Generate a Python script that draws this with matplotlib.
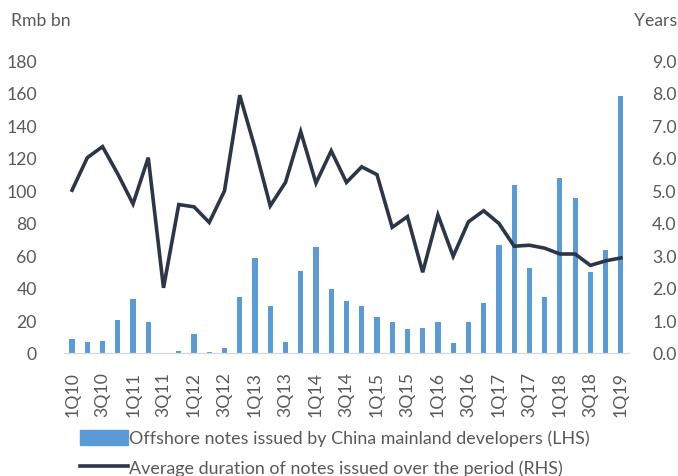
import matplotlib.pyplot as plt
from matplotlib.lines import Line2D
from matplotlib.patches import Patch

plt.rcParams["font.family"] = ["Lato", "DejaVu Sans"]

QUARTERS = [f"{q}Q{y:02d}" for y in range(10, 20) for q in range(1, 5)][:37]

# Offshore notes issued, Rmb bn (LHS)
ISSUANCE = [8.6, 6.5, 7.4, 20.5, 33.2, 19.0, 0.0, 1.0, 11.9, 0.4,
            3.1, 34.4, 58.6, 28.7, 6.5, 50.2, 64.9, 39.3, 32.1, 29.1,
            22.1, 19.0, 14.7, 15.1, 19.0, 6.1, 19.0, 30.5, 66.1, 103.4,
            52.4, 34.6, 107.3, 95.4, 49.6, 63.3, 157.7]

# Average duration of notes, years (RHS)
DURATION = [5.0, 6.0, 6.34, 5.5, 4.58, 6.0, 2.0, 4.56, 4.49, 4.01,
            4.98, 7.92, 6.3, 4.52, 5.24, 6.8, 5.22, 6.21, 5.24, 5.72,
            5.48, 3.86, 4.19, 2.48, 4.24, 2.97, 4.03, 4.37, 3.98, 3.28,
            3.31, 3.22, 3.04, 3.04, 2.69, 2.83, 2.92]

BAR_COLOR = "#5B9BD5"
LINE_COLOR = "#2B3648"
TEXT_COLOR = "#595959"
FS = 12.7

fig = plt.figure(figsize=(6.78, 4.77), dpi=100)
ax = fig.add_axes([0.095, 0.258, 0.832, 0.614])
ax2 = ax.twinx()

x = list(range(len(QUARTERS)))
ax.bar(x, ISSUANCE, width=0.34, color=BAR_COLOR, zorder=2)
ax2.plot(x, DURATION, color=LINE_COLOR, linewidth=2.6, solid_joinstyle="miter", zorder=3)

ax.set_xlim(-0.5, len(QUARTERS) - 0.5)
ax.set_ylim(0, 180)
ax.set_yticks(range(0, 181, 20))
ax2.set_ylim(0, 9)
ax2.set_yticks([i * 1.0 for i in range(10)])
ax2.set_yticklabels([f"{i:.1f}" for i in range(10)])

ax.set_xticks(x[::2])
ax.set_xticklabels(QUARTERS[::2], rotation=90)

for a in (ax, ax2):
    for side in ("top", "left", "right"):
        a.spines[side].set_visible(False)
    a.spines["bottom"].set_color("#D9D9D9")
    a.tick_params(length=0, labelsize=FS, colors=TEXT_COLOR)
ax.tick_params(axis="y", pad=20)
ax2.tick_params(axis="y", pad=17)
ax.tick_params(axis="x", pad=13)

fig.text(0.016, 0.955, "Rmb bn", fontsize=FS, color=TEXT_COLOR, va="center")
fig.text(0.935, 0.955, "Years", fontsize=FS, color=TEXT_COLOR, va="center")

handles = [Patch(color=BAR_COLOR),
           Line2D([0], [0], color=LINE_COLOR, linewidth=2.6)]
labels = ["Offshore notes issued by China mainland developers (LHS)",
          "Average duration of notes issued over the period (RHS)"]
fig.legend(handles, labels, loc="upper left", bbox_to_anchor=(0.118, 0.097),
           frameon=False, fontsize=12.9, labelcolor=TEXT_COLOR,
           handlelength=2.7, handleheight=0.9, handletextpad=0.05,
           labelspacing=0.7, borderaxespad=0, borderpad=0)

fig.savefig("out.png", dpi=100)
